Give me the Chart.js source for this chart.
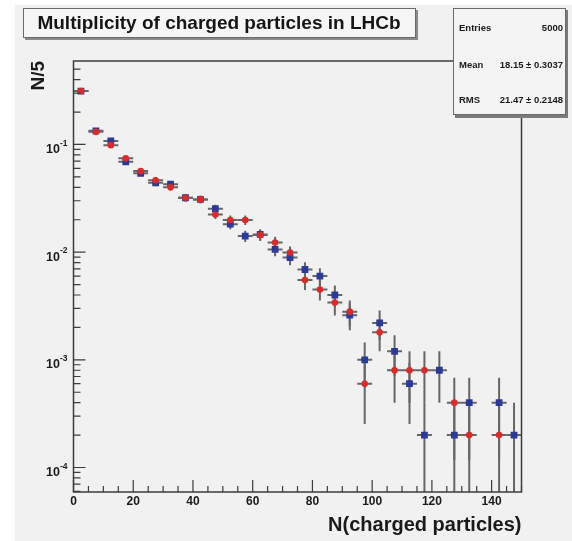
<!DOCTYPE html>
<html>
<head>
<meta charset="utf-8">
<script src="https://cdn.jsdelivr.net/npm/chart.js@4.4.1/dist/chart.umd.min.js"></script>
<style>
html, body { margin: 0; padding: 0; background: #fff; }
#wrap { position: relative; width: 572px; height: 541px; }
canvas { position: absolute; left: 0; top: 0; }
</style>
</head>
<body>
<div id="wrap"><canvas id="chart" width="572" height="541"></canvas></div>
<script>
// bin centres of N(charged particles), 5 wide
var binCenters = [2.5, 7.5, 12.5, 17.5, 22.5, 27.5, 32.5, 37.5, 42.5, 47.5,
	52.5, 57.5, 62.5, 67.5, 72.5, 77.5, 82.5, 87.5, 92.5, 97.5,
	102.5, 107.5, 112.5, 117.5, 122.5, 127.5, 132.5, 137.5, 142.5, 147.5];
var redValues = [0.313, 0.131, 0.0986, 0.0743, 0.0566, 0.0466, 0.0400, 0.0320, 0.0309, 0.0224,
	0.0199, 0.0199, 0.0144, 0.0123, 0.0099, 0.0055, 0.0045, 0.0034, 0.0028, 0.0006,
	0.0018, 0.0008, 0.0008, 0.0008, null, 0.0004, 0.0002, null, 0.0002, null];
var blueValues = [0.313, 0.134, 0.1077, 0.0690, 0.0540, 0.0440, 0.0428, 0.0320, 0.0309, 0.0253,
	0.0182, 0.0141, 0.0146, 0.0106, 0.0089, 0.0069, 0.0060, 0.0040, 0.0026, 0.0010,
	0.0022, 0.0012, 0.0006, 0.0002, 0.0008, 0.0002, 0.0004, null, 0.0004, 0.0002];
var entries = 5000;
var binHalfWidth = 2.5;
var xTicks = [0, 20, 40, 60, 80, 100, 120, 140];
var yDecades = [-4, -3, -2, -1];
var statsLabels = ["Entries", "Mean", "RMS"];
var statsValues = ["5000", "18.15 \u00b1 0.3037", "21.47 \u00b1 0.2148"];

var titleText = "Multiplicity of charged particles in LHCb";
var xTitle = "N(charged particles)";
var yTitle = "N/5";

var FONT = "'Liberation Sans', Arial, Helvetica, sans-serif";
var LINE = "#3c3c3c";

function points(values) {
	var out = [];
	for (var i = 0; i < binCenters.length; i++) {
		if (values[i] != null) out.push({x: binCenters[i], y: values[i]});
	}
	return out;
}

function drawErrors(chart, values) {
	var xs = chart.scales.x, ys = chart.scales.y, ctx = chart.ctx, a = chart.chartArea;
	ctx.save();
	ctx.strokeStyle = "#666666";
	ctx.lineWidth = 2;
	for (var i = 0; i < values.length; i++) {
		var v = values[i];
		if (v == null) continue;
		var err = Math.sqrt(v * entries) / entries;
		var px = xs.getPixelForValue(binCenters[i]);
		var py = ys.getPixelForValue(v);
		var top = ys.getPixelForValue(v + err);
		var bot = (v - err) > ys.min ? ys.getPixelForValue(v - err) : a.bottom;
		ctx.beginPath();
		ctx.moveTo(px, top);
		ctx.lineTo(px, bot);
		ctx.moveTo(xs.getPixelForValue(binCenters[i] - binHalfWidth), py);
		ctx.lineTo(xs.getPixelForValue(binCenters[i] + binHalfWidth), py);
		ctx.stroke();
	}
	ctx.restore();
}

var rootStyle = {
	id: "rootStyle",
	beforeDraw: function(chart) {
		var ctx = chart.ctx;
		ctx.save();
		ctx.fillStyle = "#ffffff";
		ctx.fillRect(0, 0, chart.width, chart.height);
		ctx.fillStyle = "#f1f1f1";
		ctx.fillRect(15, 5, chart.width - 15, chart.height - 5);

		// title box
		ctx.fillStyle = "#8a8a8a";
		ctx.fillRect(25, 10, 393, 30);
		ctx.fillStyle = "#f6f6f6";
		ctx.fillRect(23, 8, 393, 30);
		ctx.strokeStyle = "#6a6a6a";
		ctx.lineWidth = 1;
		ctx.strokeRect(23.5, 8.5, 392, 29);
		ctx.fillStyle = "#151515";
		ctx.font = "bold 19px " + FONT;
		ctx.textAlign = "center";
		ctx.textBaseline = "middle";
		ctx.fillText(titleText, 219, 24);
		ctx.restore();
	},
	beforeDatasetsDraw: function(chart) {
		drawErrors(chart, blueValues);
		drawErrors(chart, redValues);
	},
	afterDatasetsDraw: function(chart) {
		var ctx = chart.ctx, a = chart.chartArea, xs = chart.scales.x, ys = chart.scales.y;
		ctx.save();
		ctx.strokeStyle = LINE;
		ctx.lineWidth = 1.5;
		ctx.strokeRect(a.left, a.top, a.right - a.left, a.bottom - a.top);

		// x ticks, pointing in
		ctx.lineWidth = 1.2;
		ctx.beginPath();
		for (var t = 0; t <= 150; t += 5) {
			var px = xs.getPixelForValue(t);
			var len = (t % 20 === 0) ? 12 : 6;
			ctx.moveTo(px, a.bottom);
			ctx.lineTo(px, a.bottom - len);
		}
		// y ticks on a log axis
		for (var d = -5; d <= 0; d++) {
			for (var m = 1; m <= 9; m++) {
				var v = m * Math.pow(10, d);
				if (v < ys.min || v > ys.max) continue;
				var py = ys.getPixelForValue(v);
				ctx.moveTo(a.left, py);
				ctx.lineTo(a.left + (m === 1 ? 12 : 7), py);
			}
		}
		ctx.stroke();

		ctx.fillStyle = "#1a1a1a";
		ctx.font = "bold 12px " + FONT;
		ctx.textAlign = "center";
		ctx.textBaseline = "middle";
		xTicks.forEach(function(t) {
			ctx.fillText(String(t), xs.getPixelForValue(t), 502);
		});

		yDecades.forEach(function(d) {
			var py = ys.getPixelForValue(Math.pow(10, d));
			var expo = String(d);
			ctx.font = "bold 8.5px " + FONT;
			var ew = ctx.measureText(expo).width;
			ctx.textAlign = "right";
			ctx.fillText(expo, a.left - 6, py - 1);
			ctx.font = "bold 12.5px " + FONT;
			ctx.fillText("10", a.left - 6 - ew, py + 5);
		});

		// axis titles
		ctx.font = "bold 20px " + FONT;
		ctx.textAlign = "right";
		ctx.textBaseline = "alphabetic";
		ctx.fillText(xTitle, a.right, 531);
		ctx.save();
		ctx.translate(44, a.top);
		ctx.rotate(-Math.PI / 2);
		ctx.font = "bold 19px " + FONT;
		ctx.textAlign = "right";
		ctx.fillText(yTitle, 0, 0);
		ctx.restore();

		// stats box
		ctx.fillStyle = "#7a7a7a";
		ctx.fillRect(455, 10, 113, 108);
		ctx.fillStyle = "#f4f4f4";
		ctx.fillRect(453, 8, 113, 107);
		ctx.strokeStyle = "#6a6a6a";
		ctx.lineWidth = 1;
		ctx.strokeRect(453.5, 8.5, 112, 106);
		ctx.fillStyle = "#1a1a1a";
		ctx.font = "bold 9.5px " + FONT;
		ctx.textBaseline = "middle";
		var rows = [28, 65, 100];
		for (var i = 0; i < statsLabels.length; i++) {
			ctx.textAlign = "left";
			ctx.fillText(statsLabels[i], 459, rows[i]);
			ctx.textAlign = "right";
			ctx.fillText(statsValues[i], 563, rows[i]);
		}
		ctx.restore();
	}
};

var chart = new Chart(document.getElementById("chart"), {
	type: "scatter",
	data: {
		datasets: [
			{
				label: "red",
				data: points(redValues),
				backgroundColor: "#dc2a2a",
				borderColor: "#dc2a2a",
				pointStyle: "circle",
				pointRadius: 3.3,
				pointBorderWidth: 0
			},
			{
				label: "blue",
				data: points(blueValues),
				backgroundColor: "#2b3a98",
				borderColor: "#2b3a98",
				pointStyle: "rect",
				pointRadius: 4.8,
				pointBorderWidth: 0
			}
		]
	},
	options: {
		responsive: false,
		animation: false,
		layout: { padding: { left: 73.5, right: 50.5, top: 61, bottom: 49 } },
		scales: {
			x: { type: "linear", min: 0, max: 150, display: false },
			y: { type: "logarithmic", min: 5.92e-5, max: 0.596, display: false }
		},
		plugins: {
			legend: { display: false },
			tooltip: { enabled: false }
		}
	},
	plugins: [rootStyle]
});
</script>
</body>
</html>
